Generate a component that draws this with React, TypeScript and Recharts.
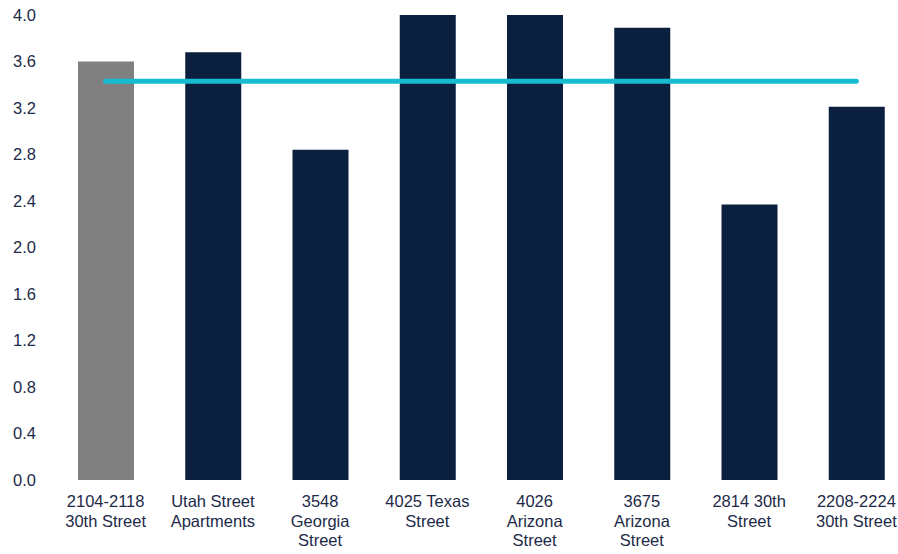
import React from "react";
import { ComposedChart, Bar, Line, XAxis, YAxis, Cell } from "recharts";

const categories = [
  "2104-2118\n30th Street",
  "Utah Street\nApartments",
  "3548\nGeorgia\nStreet",
  "4025 Texas\nStreet",
  "4026\nArizona\nStreet",
  "3675\nArizona\nStreet",
  "2814 30th\nStreet",
  "2208-2224\n30th Street",
];
const barValues = [3.6, 3.68, 2.84, 4.0, 4.0, 3.89, 2.37, 3.21];
const averageValues = [3.43, 3.43, 3.43, 3.43, 3.43, 3.43, 3.43, 3.43];
const barColors = ["#808080", "#0b1f3e", "#0b1f3e", "#0b1f3e", "#0b1f3e", "#0b1f3e", "#0b1f3e", "#0b1f3e"];
const yTicks = [0, 0.4, 0.8, 1.2, 1.6, 2.0, 2.4, 2.8, 3.2, 3.6, 4.0];

const data = categories.map((name, i) => ({
  name,
  value: barValues[i],
  avg: averageValues[i],
}));

const FONT = '"Liberation Sans", Arial, sans-serif';
const TEXT_COLOR = "#1c2a48";
const FONT_SIZE = 16.5;

const XTick = (props: any) => {
  const { x, y, payload } = props;
  const lines = String(payload.value).split("\n");
  return (
    <text
      x={x}
      y={y}
      textAnchor="middle"
      fill={TEXT_COLOR}
      fontSize={FONT_SIZE}
      fontFamily={FONT}
    >
      {lines.map((l, i) => (
        <tspan key={i} x={x} dy={i === 0 ? 27 : 19.5}>
          {l}
        </tspan>
      ))}
    </text>
  );
};

export default function App() {
  return (
    <div
      style={{
        position: "absolute",
        left: 0,
        top: 0,
        width: 898,
        height: 554,
        overflow: "hidden",
        background: "#fff",
      }}
    >
      <ComposedChart
        width={910}
        height={554}
        data={data}
        margin={{ top: 15, right: 0, left: 0, bottom: 0 }}
      >
        <XAxis
          dataKey="name"
          axisLine={false}
          tickLine={false}
          tickSize={0}
          tickMargin={0}
          height={74}
          interval={0}
          tick={<XTick />}
        />
        <YAxis
          domain={[0, 4]}
          ticks={yTicks}
          width={52}
          axisLine={false}
          tickLine={false}
          tickSize={0}
          tickMargin={16}
          tickFormatter={(v: number) => v.toFixed(1)}
          tick={{ fill: TEXT_COLOR, fontSize: FONT_SIZE, fontFamily: FONT }}
        />
        <Bar dataKey="value" barSize={56} isAnimationActive={false}>
          {data.map((d, i) => (
            <Cell key={i} fill={barColors[i]} />
          ))}
        </Bar>
        <Line
          dataKey="avg"
          stroke="#18bcd0"
          strokeWidth={5}
          strokeLinecap="round"
          dot={false}
          activeDot={false}
          isAnimationActive={false}
        />
      </ComposedChart>
    </div>
  );
}
